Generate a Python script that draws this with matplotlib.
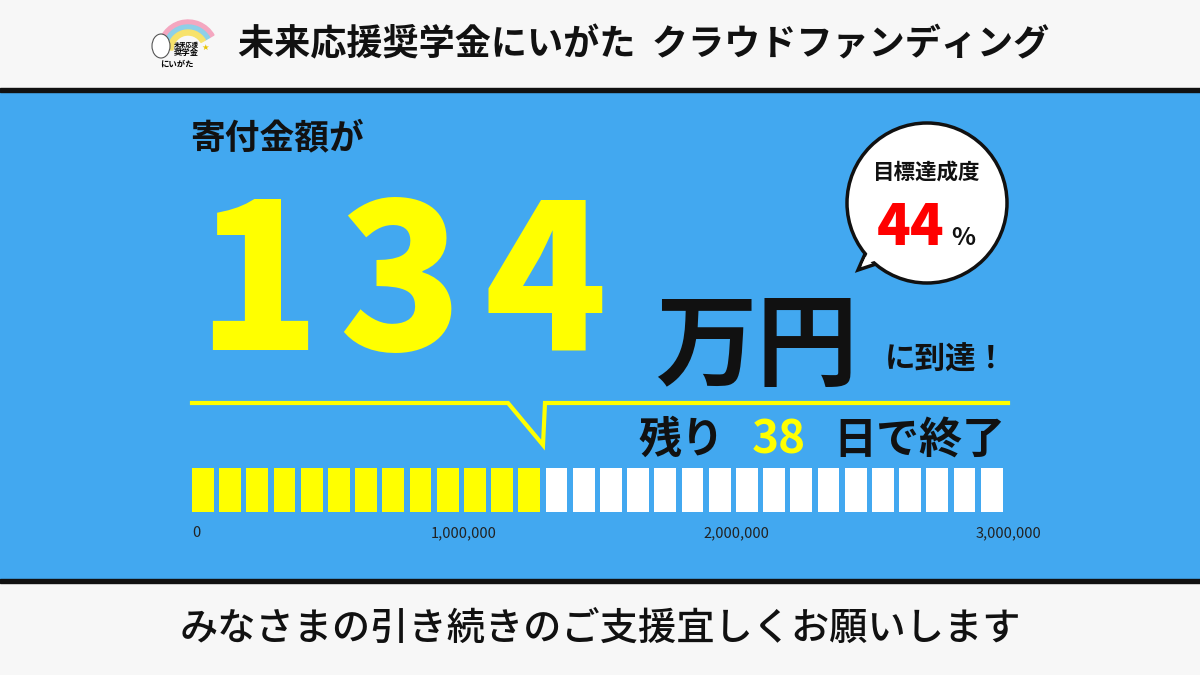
import matplotlib
matplotlib.use("Agg")
import matplotlib.pyplot as plt
from matplotlib.patches import Rectangle, Circle, Polygon, Wedge, Ellipse

plt.rcParams['font.family'] = ['Noto Sans CJK JP', 'DejaVu Sans']

title = "未来応援奨学金にいがた  クラウドファンディング"
footer = "みなさまの引き続きのご支援宜しくお願いします"
raised_man = 134
raised = 1340000
goal = 3000000
percent = 44
days_left = 38
n_segments = 30
tick_values = [0, 1000000, 2000000, 3000000]
tick_labels = ["0", "1,000,000", "2,000,000", "3,000,000"]

BLUE = "#42A8F0"
YEL = "#FFFF00"

fig = plt.figure(figsize=(12, 6.75), dpi=100)
ax = fig.add_axes([0, 0, 1, 1])
ax.set_xlim(0, 1200); ax.set_ylim(675, 0); ax.axis('off')

ax.add_patch(Rectangle((0, 0), 1200, 675, color="#F7F7F7"))
ax.add_patch(Rectangle((0, 90), 1200, 492, color=BLUE))
ax.add_patch(Rectangle((0, 88), 1200, 4, color="#111111"))
ax.add_patch(Rectangle((0, 579), 1200, 4, color="#111111"))

# logo
for r, c in [(30, "#F4A7C0"), (25, "#8ED0E8"), (20, "#F7E26B")]:
    ax.add_patch(Wedge((188, 50), r, 180, 330, width=5, color=c))
ax.add_patch(Ellipse((161, 46), 18, 24, facecolor="white", edgecolor="#555", lw=0.8, zorder=3))
ax.text(186, 44, "未来応援", fontsize=4.5, ha='center', va='center', weight='bold')
ax.text(186, 52, "奨学金", fontsize=6, ha='center', va='center', weight='bold')
ax.text(177, 64, "にいがた", fontsize=6, ha='center', va='center', weight='bold')
ax.text(205, 47, "★", fontsize=6, ha='center', va='center', color="#E8C400", family='DejaVu Sans')

ax.text(238, 45, title, fontsize=26, weight='bold', ha='left', va='center', color="#111")
ax.text(600, 630, footer, fontsize=27.5, weight='medium', ha='center', va='center', color="#111")

ax.text(190, 138, "寄付金額が", fontsize=25, weight='bold', ha='left', va='center', color="#111")
digit_x = [258, 400, 545]
for ch, x in zip(str(raised_man), digit_x):
    ax.text(x, 350, ch, fontsize=146, weight='black', ha='center', va='baseline', color=YEL)
ax.text(655, 378, "万円", fontsize=73, weight='bold', ha='left', va='baseline', color="#111")
ax.text(885, 360, "に到達！", fontsize=22, weight='bold', ha='left', va='center', color="#111")

# bubble
ax.add_patch(Polygon([[872, 238], [858, 270], [900, 256]], closed=True, facecolor="white", edgecolor="#111", lw=2.5, zorder=3))
ax.add_patch(Circle((927, 203), 80, facecolor="white", edgecolor="#111", lw=2.5, zorder=4))
ax.add_patch(Polygon([[874, 240], [862, 265], [902, 252]], closed=True, facecolor="white", edgecolor="none", zorder=5))
ax.text(927, 172, "目標達成度", fontsize=15.5, weight='bold', ha='center', va='center', color="#111", zorder=6)
ax.text(944, 245, f"{percent}", fontsize=40, weight='black', ha='right', va='baseline', color="#FF0000", zorder=6)
ax.text(951, 245, "%", fontsize=18, weight='bold', ha='left', va='baseline', color="#111", zorder=6)

# yellow line with notch
ax.plot([192, 508, 543, 545, 1008], [403, 403, 445, 403, 403], color=YEL, lw=3, solid_joinstyle='miter')

ax.text(1005, 440, "日で終了", fontsize=31, weight='bold', ha='right', va='center', color="#111")
ax.text(638, 440, "残り", fontsize=31, weight='bold', ha='left', va='center', color="#111")
ax.text(779, 440, f"{days_left}", fontsize=33, weight='bold', ha='center', va='center', color=YEL)

# progress bar
bx = fig.add_axes([192/1200, 1-512/675, (1008-192)/1200, 44/675])
bx.set_xlim(0, goal); bx.set_ylim(0, 1); bx.axis('off')
seg = goal / n_segments
filled = int(raised // seg)
for i in range(n_segments):
    bx.bar(i*seg, 1, width=seg*0.8, align='edge', color=YEL if i < filled else "white")

tx = fig.add_axes([192/1200, 0, (1008-192)/1200, 1])
tx.set_xlim(0, goal); tx.set_ylim(675, 0); tx.axis('off')
for v, l in zip(tick_values, tick_labels):
    ha = 'left' if v == 0 else 'center'
    tx.text(v, 533, l, fontsize=10.5, ha=ha, va='center', color="#222")

fig.savefig("out.png", dpi=100)
